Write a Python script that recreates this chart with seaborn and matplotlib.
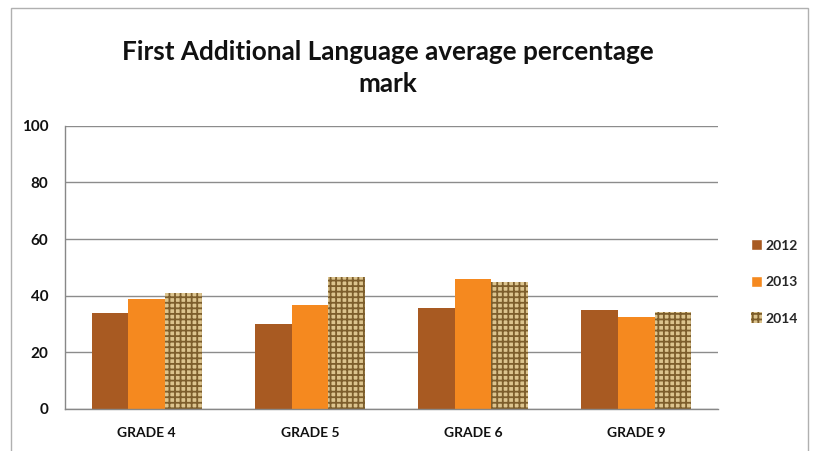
import matplotlib
matplotlib.use("Agg")
import matplotlib.pyplot as plt
import seaborn as sns
import pandas as pd
from matplotlib.patches import Rectangle

categories = ["GRADE 4", "GRADE 5", "GRADE 6", "GRADE 9"]
years = ["2012", "2013", "2014"]
v2012 = [34.0, 29.9, 35.8, 35.0]
v2013 = [38.7, 36.8, 45.8, 32.6]
v2014 = [41.1, 46.7, 45.0, 34.2]
yticks = [0, 20, 40, 60, 80, 100]
title = "First Additional Language average percentage\nmark"

rows = []
for yr, vals in zip(years, [v2012, v2013, v2014]):
    for c, v in zip(categories, vals):
        rows.append({"grade": c, "year": yr, "value": v})
df = pd.DataFrame(rows)

sns.set_theme(style="white")
plt.rcParams["font.family"] = ["Lato", "DejaVu Sans"]
plt.rcParams["hatch.linewidth"] = 1.3

fig = plt.figure(figsize=(8.15, 4.51), dpi=100)
ax = fig.add_axes([65/815, 1-409/451, (718-65)/815, (409-125.7)/451])

palette = ["#a85a22", "#f5891f", "#dcc48e"]
sns.barplot(data=df, x="grade", y="value", hue="year", palette=palette,
            width=0.675, saturation=1, ax=ax, legend=False, linewidth=0)

for bar in ax.containers[2]:
    bar.set_hatch("+++")
    bar.set_edgecolor("#7d5e2c")
    bar.set_linewidth(0)

ax.set_ylim(0, 100)
ax.set_xlim(-0.5, 3.5)
ax.set_yticks(yticks)
ax.set_yticklabels([str(t) for t in yticks], fontsize=11, fontweight="bold", color="#111111")
ax.set_xticks(range(len(categories)))
ax.set_xticklabels(categories, fontsize=10, fontweight="bold", color="#111111")
ax.set_xticks([-0.5, 0.5, 1.5, 2.5, 3.5], minor=True)
ax.tick_params(axis="x", which="major", length=0, pad=13)
ax.tick_params(axis="x", which="minor", length=5, color="#888888", width=1, direction="out")
ax.tick_params(axis="y", which="major", length=5, color="#888888", width=1, direction="out", pad=7)
ax.yaxis.grid(True, color="#8c8c8c", linewidth=1)
ax.set_axisbelow(True)
ax.set_xlabel("")
ax.set_ylabel("")
for s in ["top", "right"]:
    ax.spines[s].set_visible(False)
for s in ["left", "bottom"]:
    ax.spines[s].set_color("#888888")
    ax.spines[s].set_linewidth(1)

handles = [Rectangle((0, 0), 1, 1, facecolor=palette[0]),
           Rectangle((0, 0), 1, 1, facecolor=palette[1]),
           Rectangle((0, 0), 1, 1, facecolor=palette[2], hatch="+++", edgecolor="#7d5e2c", linewidth=0)]
leg = fig.legend(handles, years, loc="center left", bbox_to_anchor=(738/815, 1-282/451),
                 frameon=False, prop={"family": ["Lato", "DejaVu Sans"], "weight": "bold", "size": 10},
                 handlelength=0.8, handleheight=0.8, handletextpad=0.3, labelspacing=1.75)

fig.text(388/815, 1-68/451, title, ha="center", va="center", fontsize=18.8, fontweight="bold",
         color="#111111", linespacing=1.35)

border = Rectangle((11/815, -0.05), (808-11)/815, 1-8/451+0.05, transform=fig.transFigure,
                   fill=False, edgecolor="#b0b0b0", linewidth=1)
fig.add_artist(border)

fig.savefig("out.png", dpi=100)
